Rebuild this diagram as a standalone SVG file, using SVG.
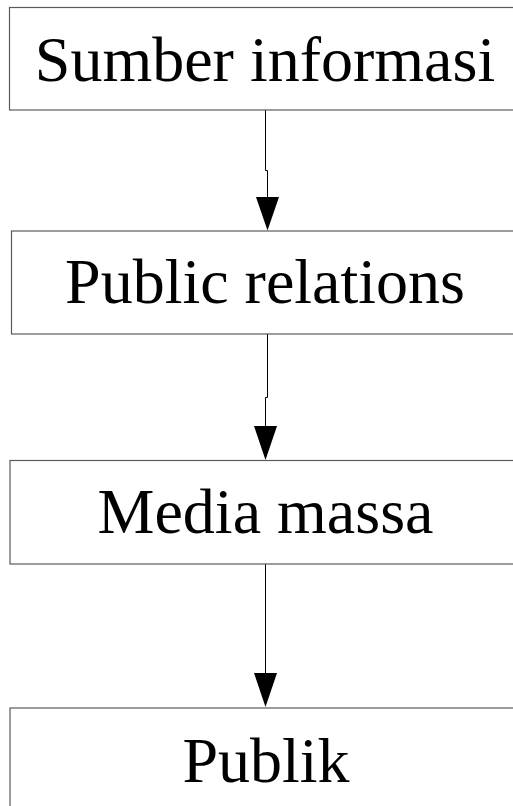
<svg xmlns="http://www.w3.org/2000/svg" width="513" height="806" viewBox="0 0 513 806">
<style>
.box{fill:#fff;stroke:#5a5a5a;stroke-width:1.2}
.lbl{font-family:"Liberation Serif","Times New Roman",serif;font-size:64px;fill:#000;text-anchor:middle}
.conn{fill:none;stroke:#000;stroke-width:1}
.head{fill:#000}
</style>
<rect x="0" y="0" width="513" height="806" fill="#fff"/>
<g id="connectors">
<polyline class="conn" points="265.5,110 265.5,170.5 267.5,170.5 267.5,198"/>
<polygon class="head" points="256,197 279,197 267.5,230.5"/>
<polyline class="conn" points="267.5,334 267.5,397.5 265.5,397.5 265.5,427"/>
<polygon class="head" points="254,426 277,426 265.5,460"/>
<polyline class="conn" points="265.5,564 265.5,674"/>
<polygon class="head" points="254,673 277,673 265.5,707"/>
</g>
<g id="node-sumber">
<rect class="box" x="9.5" y="7.5" width="520" height="102.5"/>
<text class="lbl" x="265" y="80.5">Sumber informasi</text>
</g>
<g id="node-pr">
<rect class="box" x="11.5" y="231" width="520" height="103"/>
<text class="lbl" x="265" y="303">Public relations</text>
</g>
<g id="node-media">
<rect class="box" x="10" y="460.5" width="520" height="103.5"/>
<text class="lbl" x="265.5" y="533">Media massa</text>
</g>
<g id="node-publik">
<rect class="box" x="10" y="708" width="520" height="110"/>
<text class="lbl" x="266" y="782">Publik</text>
</g>
</svg>
